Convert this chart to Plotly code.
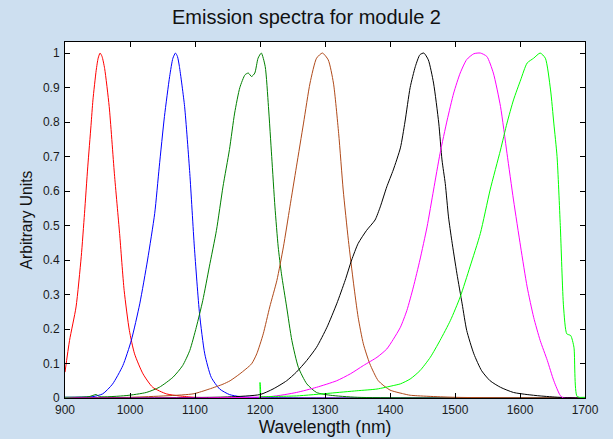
import plotly.graph_objects as go

# ---- data ----
red_wl = [900, 907, 917, 925, 930, 935, 940, 943, 948, 951, 954, 957, 961, 968, 976, 984, 991, 999, 1007, 1020, 1035, 1056, 1076, 1100, 1250, 1700]
red_val = [0.075, 0.167, 0.264, 0.41, 0.535, 0.67, 0.79, 0.864, 0.95, 0.985, 1.0, 0.99, 0.955, 0.845, 0.65, 0.477, 0.312, 0.196, 0.128, 0.07, 0.031, 0.012, 0.006, 0.002, 0.0, 0.0]

blue_wl = [900, 943, 958, 973, 989, 1002, 1015, 1027, 1038, 1045, 1053, 1061, 1066, 1070, 1073, 1076, 1084, 1092, 1099, 1107, 1115, 1125, 1138, 1153, 1169, 1200, 1450, 1700]
blue_val = [0.002, 0.004, 0.012, 0.04, 0.094, 0.167, 0.273, 0.40, 0.535, 0.67, 0.816, 0.932, 0.985, 1.0, 0.99, 0.961, 0.845, 0.651, 0.438, 0.244, 0.128, 0.06, 0.026, 0.01, 0.004, 0.001, 0.0, 0.0]

dgreen_wl = [900, 937, 948, 953, 994, 1025, 1045, 1066, 1081, 1092, 1102, 1112, 1122, 1133, 1143, 1153, 1161, 1169, 1177, 1182, 1187, 1192, 1197, 1202, 1208, 1213, 1218, 1223, 1228, 1233, 1241, 1249, 1259, 1272, 1287, 1308, 1350, 1700]
dgreen_val = [0.002, 0.004, 0.01, 0.004, 0.007, 0.016, 0.031, 0.06, 0.094, 0.138, 0.205, 0.283, 0.38, 0.486, 0.612, 0.72, 0.826, 0.9, 0.937, 0.942, 0.932, 0.942, 0.985, 1.0, 0.961, 0.845, 0.70, 0.554, 0.438, 0.36, 0.264, 0.167, 0.089, 0.041, 0.016, 0.008, 0.002, 0.0]

brown_wl = [900, 1000, 1097, 1122, 1143, 1154, 1169, 1187, 1195, 1205, 1215, 1226, 1236, 1246, 1256, 1267, 1277, 1287, 1296, 1305, 1313, 1321, 1328, 1336, 1344, 1351, 1359, 1369, 1382, 1400, 1421, 1431, 1500, 1700]
brown_val = [0.0, 0.002, 0.012, 0.026, 0.04, 0.05, 0.07, 0.099, 0.128, 0.186, 0.264, 0.341, 0.438, 0.554, 0.67, 0.797, 0.913, 0.985, 1.0, 0.98, 0.913, 0.767, 0.603, 0.457, 0.331, 0.234, 0.157, 0.099, 0.05, 0.023, 0.012, 0.008, 0.002, 0.0]

black_wl = [900, 1150, 1200, 1220, 1241, 1256, 1272, 1287, 1303, 1318, 1331, 1341, 1351, 1364, 1377, 1385, 1395, 1405, 1416, 1423, 1431, 1439, 1446, 1452, 1459, 1467, 1475, 1480, 1485, 1490, 1495, 1503, 1511, 1518, 1529, 1541, 1554, 1570, 1590, 1611, 1631, 1660, 1700]
black_val = [0.0, 0.003, 0.01, 0.026, 0.05, 0.075, 0.109, 0.147, 0.205, 0.273, 0.341, 0.40, 0.448, 0.486, 0.516, 0.554, 0.612, 0.661, 0.725, 0.8, 0.9, 0.961, 0.995, 1.0, 0.98, 0.913, 0.797, 0.69, 0.622, 0.525, 0.457, 0.36, 0.273, 0.196, 0.128, 0.079, 0.05, 0.031, 0.016, 0.01, 0.006, 0.002, 0.0]

mag_wl = [900, 1215, 1256, 1287, 1318, 1339, 1359, 1380, 1395, 1405, 1416, 1426, 1436, 1446, 1457, 1467, 1477, 1488, 1498, 1508, 1518, 1529, 1539, 1549, 1559, 1570, 1580, 1590, 1601, 1611, 1621, 1631, 1642, 1652, 1662, 1667, 1700]
mag_val = [0.0, 0.004, 0.016, 0.031, 0.05, 0.07, 0.094, 0.118, 0.142, 0.17, 0.205, 0.254, 0.322, 0.40, 0.496, 0.603, 0.709, 0.806, 0.884, 0.942, 0.981, 0.998, 1.0, 0.99, 0.942, 0.845, 0.709, 0.574, 0.438, 0.322, 0.234, 0.167, 0.109, 0.05, 0.007, 0.0, 0.0]

lime_wl = [900, 1199, 1200, 1201, 1205, 1256, 1308, 1349, 1380, 1405, 1416, 1431, 1446, 1462, 1477, 1493, 1508, 1523, 1539, 1554, 1570, 1580, 1590, 1601, 1611, 1621, 1631, 1639, 1647, 1652, 1657, 1662, 1667, 1672, 1678, 1683, 1688, 1700]
lime_val = [0.0, 0.0, 0.045, 0.004, 0.004, 0.006, 0.014, 0.021, 0.026, 0.036, 0.041, 0.055, 0.079, 0.118, 0.167, 0.225, 0.293, 0.38, 0.477, 0.603, 0.719, 0.797, 0.864, 0.922, 0.971, 0.985, 1.0, 0.985, 0.893, 0.797, 0.70, 0.50, 0.264, 0.186, 0.181, 0.147, 0.004, 0.002]

x_ticks = [900, 1000, 1100, 1200, 1300, 1400, 1500, 1600, 1700]
y_ticks = [0, 0.1, 0.2, 0.3, 0.4, 0.5, 0.6, 0.7, 0.8, 0.9, 1]
y_tick_text = ["0", "0.1", "0.2", "0.3", "0.4", "0.5", "0.6", "0.7", "0.8", "0.9", "1"]

series = [
    (red_wl, red_val, "#ff0000"),
    (blue_wl, blue_val, "#0000ff"),
    (dgreen_wl, dgreen_val, "#008000"),
    (brown_wl, brown_val, "#b04a1a"),
    (black_wl, black_val, "#000000"),
    (mag_wl, mag_val, "#ff00ff"),
    (lime_wl, lime_val, "#00ff00"),
]

fig = go.Figure()
for wl, val, col in series:
    fig.add_trace(go.Scatter(x=wl, y=val, mode="lines", line_shape="spline",
                             line=dict(color=col, width=1, smoothing=0.6), showlegend=False))

FONT = "Arial, Liberation Sans"
axis_common = dict(showgrid=False, zeroline=False, showline=True, linecolor="black",
                   linewidth=1, mirror="allticks", ticks="inside", ticklen=5,
                   tickcolor="black", automargin=False,
                   tickfont=dict(family=FONT, size=12, color="#1a1a1a"))

fig.update_layout(
    width=613, height=439,
    margin=dict(l=65, r=28, t=42, b=41),
    paper_bgcolor="#cddff0", plot_bgcolor="white",
    title=dict(text="Emission spectra for module 2", x=0.5, xanchor="center",
               y=1 - 17 / 439, yanchor="middle",
               font=dict(family=FONT, size=20, color="#111")),
    xaxis=dict(range=[900, 1700], tickvals=x_ticks, ticklabelstandoff=1,
               title=dict(text="Wavelength (nm)", standoff=1,
                          font=dict(family=FONT, size=17.5, color="#111")),
               **axis_common),
    yaxis=dict(range=[0, 1.032], tickvals=y_ticks, ticktext=y_tick_text,
               ticklabelstandoff=2,
               title=dict(text="Arbitrary Units", standoff=6,
                          font=dict(family=FONT, size=15.6, color="#111")),
               **axis_common),
)

fig.write_html("out.html", config={"displayModeBar": False},
               post_script="document.body.style.margin='0px';document.body.style.overflow='hidden';")
